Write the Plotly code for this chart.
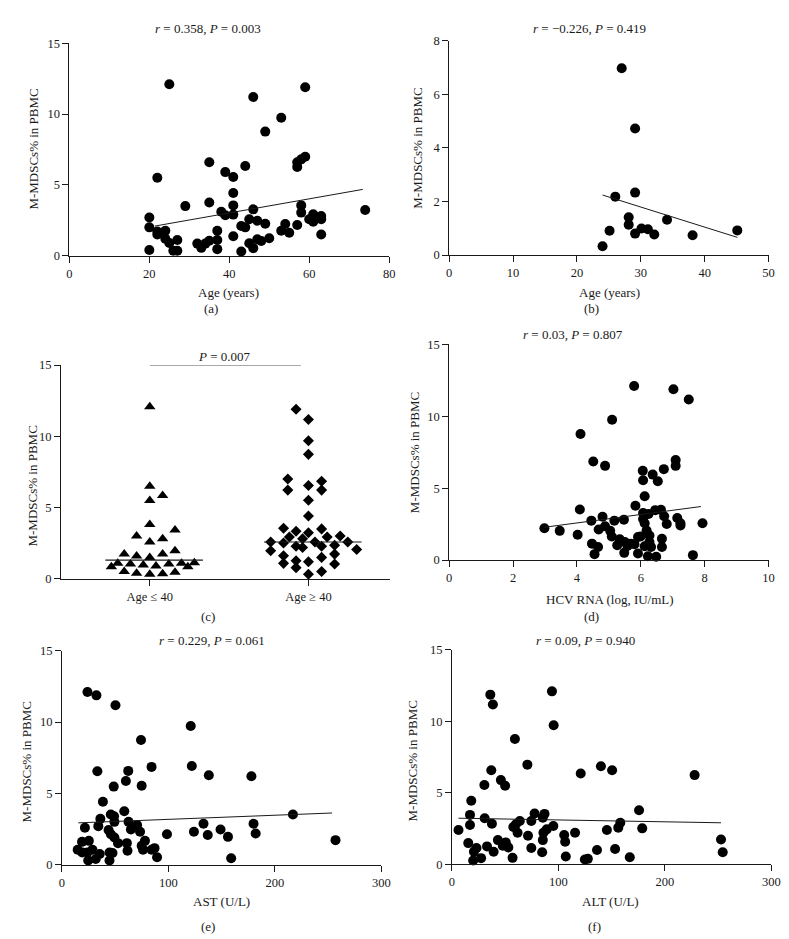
import plotly.graph_objects as go

W, H = 789, 939

# ---- panel (a): age vs M-MDSCs
age_a = [25, 20, 20, 20, 22, 22, 22, 24, 24, 25, 26, 27, 27, 29, 32, 33, 34, 35, 35, 35,
         37, 37, 37, 38, 39, 39, 41, 41, 41, 41, 41, 43, 43, 44, 44, 46, 46, 45, 45, 46,
         47, 47, 48, 49, 49, 50, 53, 53, 54, 55, 57, 57, 57, 58, 58, 58, 59, 59, 60, 61,
         61, 63, 63, 63, 74]
mdsc_a = [12.1, 0.4, 2.7, 2.0, 5.5, 1.7, 1.5, 1.76, 1.2, 0.9, 0.35, 1.1, 0.35, 3.5, 0.85, 0.55, 0.85, 1.05, 6.6, 3.75,
          1.76, 1.1, 0.46, 3.1, 2.85, 5.9, 5.55, 4.43, 3.55, 2.9, 1.37, 0.3, 2.1, 2.0, 6.33, 3.27, 11.2, 2.57, 0.88, 0.53,
          2.46, 1.16, 1.04, 8.76, 2.25, 1.23, 9.74, 1.76, 2.23, 1.62, 2.16, 6.26, 6.6, 3.55, 3.04, 6.8, 6.98, 11.9, 2.57, 2.39,
          2.92, 2.8, 2.57, 1.5, 3.22]
fit_a_x = [21.4, 73.4]
fit_a_y = [2.09, 4.68]

# ---- panel (b)
age_b = [27, 29.1, 29.1, 26, 28.1, 28.1, 25.1, 24, 29.1, 30.1, 31.1, 32.1, 34.1, 38.1, 45.1]
mdsc_b = [6.97, 4.72, 2.33, 2.18, 1.41, 1.13, 0.91, 0.33, 0.8, 0.99, 0.96, 0.77, 1.32, 0.74, 0.92]
fit_b_x = [24, 45.1]
fit_b_y = [2.24, 0.66]

# ---- panel (c): age groups
groups = ["Age \u2264 40", "Age \u2265 40"]
young_jitter = [0, 0, 0, 0.081, 0, -0.083, 0.159, 0, 0.081, 0.159, -0.161, -0.083, 0, 0.081,
                -0.202, -0.122, -0.041, 0.039, 0.12, 0.2, 0.281, -0.242, 0.24, -0.161, -0.083, 0, 0.081, 0.159]
young_vals = [12.07, 6.5, 5.5, 5.85, 3.8, 3.0, 3.43, 2.58, 2.81, 1.96, 1.73, 1.59, 1.5, 1.73,
              1.08, 1.04, 0.97, 0.9, 1.04, 1.08, 1.13, 0.85, 0.85, 0.51, 0.39, 0.32, 0.35, 0.46]
old_jitter = [-0.078, 0, 0, 0, -0.13, 0.083, -0.13, 0, 0.083, 0, 0, -0.157, 0.083, -0.078, 0,
              -0.12, 0.118, 0.2, -0.238, -0.157, -0.037, 0.041, 0.248, -0.078, -0.037, 0.083, 0.165,
              -0.238, 0.304, -0.157, 0.083, 0.165, -0.078, 0, -0.157, 0.165, -0.078, 0.083, 0]
old_vals = [11.9, 11.17, 9.68, 8.73, 7.0, 6.84, 6.22, 6.54, 6.22, 5.51, 4.4, 3.55, 3.5, 3.34, 3.23,
            2.93, 2.93, 3.0, 2.58, 2.51, 2.81, 2.58, 2.58, 2.28, 2.19, 2.28, 2.35,
            1.96, 2.05, 1.61, 1.5, 1.73, 1.27, 1.2, 1.08, 1.04, 0.78, 0.51, 0.32]
medians = [1.31, 2.58]
median_span = [-0.28, 0.335]
sig_x = [1, 1.952]
sig_y = [15, 15]

# ---- panel (d): HCV RNA
rna_d = [5.79, 7.02, 7.5, 5.1, 4.11, 4.51, 4.88, 7.09, 7.09, 6.06, 6.72, 6.37, 6.53, 6.07, 6.12,
         4.09, 5.83, 6.07, 6.24, 6.45, 6.63, 6.73, 7.14, 7.24, 7.24, 7.93, 6.81, 6.07, 6.12,
         2.98, 3.46, 4.45, 4.8, 4.68, 4.88, 5.17, 5.04, 5.09, 5.34, 5.47, 4.02, 4.47, 4.66, 4.55,
         5.26, 5.48, 5.68, 5.91, 5.99, 5.91, 6.12, 6.27, 6.27, 6.18, 6.32, 6.22, 6.48, 6.66, 6.66,
         7.63, 5.58, 5.8, 5.5]
mdsc_d = [12.1, 11.87, 11.16, 9.75, 8.77, 6.85, 6.55, 6.96, 6.55, 6.21, 6.32, 5.94, 5.48, 5.55, 4.43,
          3.52, 3.77, 3.27, 3.2, 3.47, 3.49, 3.04, 2.92, 2.56, 2.4, 2.56, 2.51, 2.85, 2.56,
          2.21, 2.03, 2.74, 3.01, 2.12, 2.35, 2.74, 2.03, 1.64, 1.44, 2.81, 1.76, 1.14, 0.91, 0.41,
          1.03, 0.5, 1.14, 1.6, 1.64, 0.46, 0.96, 1.26, 1.71, 2.05, 0.91, 0.27, 0.23, 1.48, 0.91,
          0.34, 0.98, 1.1, 1.26]
fit_d_x = [2.98, 7.88]
fit_d_y = [2.28, 3.72]

# ---- panel (e): AST
ast_e = [24, 32.4, 50.3, 121, 74.3, 84.2, 122, 33.3, 62.3, 138, 60.1, 48.7, 74.9, 178, 38.5, 58.6,
         217, 36.1, 34.2, 45.9, 49, 49.3, 62.6, 70.6, 73.4, 64.8, 21.6, 43.8, 46, 49.3, 52.7,
         98.7, 133, 124, 137, 149, 156, 180, 182, 257, 159, 89.4, 78, 74.9, 76.2, 87, 84.2,
         61, 61.6, 14.8, 18.9, 25.3, 19.1, 28.7, 24.7, 31.8, 35.5, 44.7, 44.7, 47.5, 24]
mdsc_e = [12.1, 11.87, 11.18, 9.73, 8.74, 6.86, 6.92, 6.56, 6.58, 6.28, 5.87, 5.48, 5.54, 6.21, 4.42, 3.75,
          3.52, 3.22, 2.71, 3.52, 3.4, 3.01, 3.01, 2.78, 2.32, 2.48, 2.6, 2.44, 2.14, 1.91, 1.52,
          2.14, 2.88, 2.32, 2.09, 2.48, 1.96, 2.88, 2.19, 1.73, 0.46, 0.53, 1.68, 1.33, 1.06, 1.17, 1.06,
          1.52, 0.99, 1.06, 1.61, 1.68, 0.87, 1.06, 0.3, 0.41, 0.76, 0.3, 0.87, 0.83, 0.87]
fit_e_x = [15.4, 253.8]
fit_e_y = [2.94, 3.63]

# ---- panel (f): ALT
alt_f = [94, 36.1, 38.5, 95.6, 59.2, 70.9, 140, 150.5, 37, 121, 228, 46, 50, 30.5, 18.2, 17, 30.8,
         17, 37.6, 6.2, 77.7, 87, 85.4, 74.6, 63.8, 60.1, 57.7, 95.3, 89.1, 86, 61.7, 71.5, 105.5,
         115.7, 145.6, 156.3, 158.2, 175.8, 178.8, 106.4, 85.4, 43.2, 50.6, 53, 47.8, 15.4, 33,
         23.1, 20.7, 39.2, 74.6, 84.8, 136.3, 153.3, 252.8, 254.4, 107, 57, 167.1, 124.9, 127.7, 20, 27.4]
mdsc_f = [12.09, 11.86, 11.17, 9.72, 8.76, 6.97, 6.86, 6.58, 6.58, 6.35, 6.24, 5.89, 5.5, 5.55, 4.45, 3.46, 3.23,
          2.75, 2.84, 2.41, 3.56, 3.53, 3.26, 3.03, 3.03, 2.8, 2.61, 2.68, 2.45, 2.22, 2.22, 2.0, 2.06,
          2.22, 2.41, 2.57, 2.91, 3.78, 2.52, 1.58, 1.7, 1.7, 1.54, 1.19, 1.31, 1.49, 1.26,
          1.15, 0.89, 0.89, 1.15, 0.85, 1.01, 1.08, 1.74, 0.85, 0.55, 0.46, 0.5, 0.34, 0.39, 0.28, 0.44]
fit_f_x = [6.2, 252.8]
fit_f_y = [3.23, 2.91]

FONT = "Liberation Serif"
INK = "#1a1a1a"


def px_x(p):
    return p / W


def px_y(p):
    return 1 - p / H


fig = go.Figure()

# (name, x domain px, y domain px (top, bottom), x range, x dtick, y range, y dtick)
panels = [
    ("", (59.3, 384), (28.7, 244.3), [0, 80], 20, [0, 15], 5),
    ("2", (445, 769.3), (26, 243.7), [0, 50], 10, [0, 8], 2),
    ("3", (50.7, 385), (355.3, 572.3), [0.44, 2.515], None, [0, 15], 5),
    ("4", (445, 769.3), (334.3, 553.3), [0, 10], 2, [0, 15], 5),
    ("5", (51.7, 376), (645.3, 862.7), [0, 300], 100, [0, 15], 5),
    ("6", (447.7, 772), (644.3, 862.3), [0, 300], 100, [0, 15], 5),
]

axis_style = dict(showline=True, linecolor=INK, linewidth=1, ticks="outside", ticklen=6,
                  tickcolor=INK, showgrid=False, zeroline=False,
                  tickfont=dict(family=FONT, size=12.5, color=INK))
for name, xd, yd, xr, xdt, yr, ydt in panels:
    xa = dict(axis_style, domain=[px_x(xd[0]), px_x(xd[1])], range=xr, anchor="y" + name)
    if xdt is None:
        xa.update(tickvals=[1, 2], ticktext=groups)
    else:
        xa.update(dtick=xdt, tick0=0)
    ya = dict(axis_style, domain=[px_y(yd[1]), px_y(yd[0])], range=yr, dtick=ydt, tick0=0,
              anchor="x" + name)
    fig.update_layout({"xaxis" + name: xa, "yaxis" + name: ya})

dot = dict(color="black", size=10)
scatter_sets = [
    ("x", "y", age_a, mdsc_a, fit_a_x, fit_a_y),
    ("x2", "y2", age_b, mdsc_b, fit_b_x, fit_b_y),
    ("x4", "y4", rna_d, mdsc_d, fit_d_x, fit_d_y),
    ("x5", "y5", ast_e, mdsc_e, fit_e_x, fit_e_y),
    ("x6", "y6", alt_f, mdsc_f, fit_f_x, fit_f_y),
]
for xa, ya, xs, ys, fx, fy in scatter_sets:
    fig.add_trace(go.Scatter(x=xs, y=ys, mode="markers", marker=dot, xaxis=xa, yaxis=ya,
                             cliponaxis=False, showlegend=False))
    fig.add_trace(go.Scatter(x=fx, y=fy, mode="lines", line=dict(color=INK, width=1),
                             xaxis=xa, yaxis=ya, showlegend=False))

# panel (c) dot plot
fig.add_trace(go.Scatter(x=[1 + j for j in young_jitter], y=young_vals, mode="markers",
                         marker=dict(symbol="triangle-up", color="black", size=10),
                         xaxis="x3", yaxis="y3", cliponaxis=False, showlegend=False))
fig.add_trace(go.Scatter(x=[2 + j for j in old_jitter], y=old_vals, mode="markers",
                         marker=dict(symbol="diamond", color="black", size=8.5),
                         xaxis="x3", yaxis="y3", cliponaxis=False, showlegend=False))
for i, m in enumerate(medians):
    fig.add_trace(go.Scatter(x=[i + 1 + median_span[0], i + 1 + median_span[1]], y=[m, m],
                             mode="lines", line=dict(color=INK, width=1.2),
                             xaxis="x3", yaxis="y3", showlegend=False))
fig.add_trace(go.Scatter(x=sig_x, y=sig_y, mode="lines", line=dict(color="#555", width=1),
                         xaxis="x3", yaxis="y3", cliponaxis=False, showlegend=False))

# text: (text, x px, y px, angle)
texts = [
    ("<i>r</i> = 0.358, <i>P</i> = 0.003", 200, 14, 0),
    ("<i>r</i> = \u22120.226, <i>P</i> = 0.419", 587, 14, 0),
    ("<i>P</i> = 0.007", 217, 347, 0),
    ("<i>r</i> = 0.03, <i>P</i> = 0.807", 571, 324, 0),
    ("<i>r</i> = 0.229, <i>P</i> = 0.061", 204, 635, 0),
    ("<i>r</i> = 0.09, <i>P</i> = 0.940", 583, 635, 0),
    ("Age (years)", 221, 282, 0),
    ("Age (years)", 608, 282, 0),
    ("HCV RNA (log, IU/mL)", 608, 593, 0),
    ("AST (U/L)", 214, 900, 0),
    ("ALT (U/L)", 609, 900, 0),
    ("(a)", 203, 298, 0),
    ("(b)", 589, 298, 0),
    ("(c)", 200, 611, 0),
    ("(d)", 589, 611, 0),
    ("(e)", 200, 925, 0),
    ("(f)", 593, 925, 0),
    ("M-MDSCs% in PBMC", 23, 136, -90),
    ("M-MDSCs% in PBMC", 413, 135, -90),
    ("M-MDSCs% in PBMC", 22, 478, -90),
    ("M-MDSCs% in PBMC", 410, 444, -90),
    ("M-MDSCs% in PBMC", 16, 758, -90),
    ("M-MDSCs% in PBMC", 408, 757, -90),
]
for t, x, y, ang in texts:
    fig.add_annotation(text=t, x=px_x(x), y=px_y(y), xref="paper", yref="paper",
                       showarrow=False, textangle=ang, xanchor="center", yanchor="middle",
                       font=dict(family=FONT, size=13, color=INK))

fig.update_layout(width=W, height=H, margin=dict(l=0, r=0, t=0, b=0),
                  plot_bgcolor="white", paper_bgcolor="white", showlegend=False)

fig.write_html("out.html")
